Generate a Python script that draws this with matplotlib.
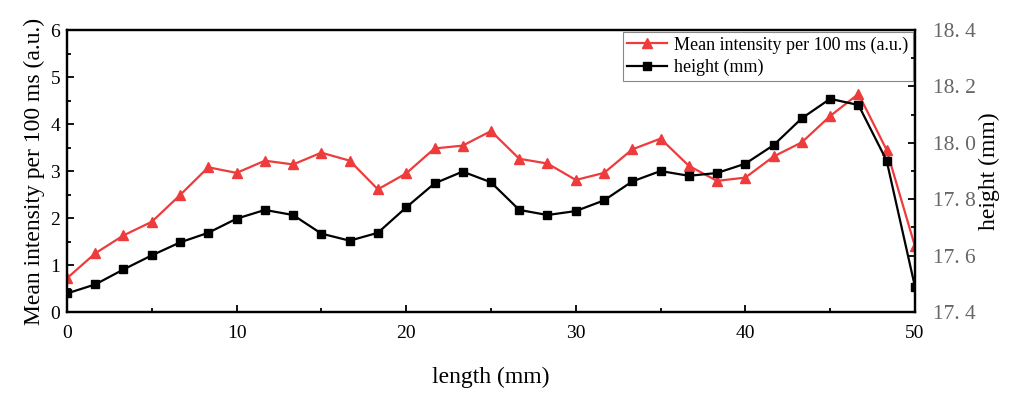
import matplotlib
matplotlib.use('Agg')
import matplotlib.pyplot as plt
from matplotlib.ticker import MultipleLocator, FuncFormatter

plt.rcParams['font.family'] = ['Liberation Serif', 'DejaVu Serif']

length = [0, 1.67, 3.33, 5, 6.67, 8.33, 10, 11.67, 13.33, 15, 16.67, 18.33, 20, 21.67, 23.33,
          25, 26.67, 28.33, 30, 31.67, 33.33, 35, 36.67, 38.33, 40, 41.67, 43.33, 45, 46.67, 48.33, 50]
intensity = [0.72, 1.25, 1.63, 1.92, 2.49, 3.08, 2.96, 3.22, 3.14, 3.39, 3.22, 2.61, 2.95, 3.48, 3.54,
             3.85, 3.26, 3.16, 2.81, 2.96, 3.46, 3.69, 3.11, 2.79, 2.86, 3.31, 3.61, 4.17, 4.64, 3.45, 1.4]
height = [17.466, 17.498, 17.551, 17.601, 17.647, 17.681, 17.731, 17.762, 17.744, 17.678, 17.653,
          17.681, 17.771, 17.856, 17.898, 17.860, 17.762, 17.744, 17.758, 17.796, 17.863, 17.900,
          17.883, 17.893, 17.926, 17.992, 18.087, 18.156, 18.134, 17.937, 17.49]

red = '#EE3B3B'
fig = plt.figure(figsize=(10.2, 3.98), dpi=100)
ax = fig.add_axes([0.0657, 0.216, 0.8313, 0.7086])
ax2 = ax.twinx()

l1, = ax.plot(length, intensity, color=red, marker='^', ms=7, lw=1.6, label='Mean intensity per 100 ms (a.u.)')
l2, = ax2.plot(length, height, color='black', marker='s', ms=6, lw=1.6, label='height (mm)')

ax.set_xlim(0, 50)
ax.set_ylim(0, 6)
ax2.set_ylim(17.4, 18.4)

ax.xaxis.set_major_locator(MultipleLocator(10))
ax.xaxis.set_minor_locator(MultipleLocator(5))
ax.yaxis.set_major_locator(MultipleLocator(1))
ax.yaxis.set_minor_locator(MultipleLocator(0.5))
ax2.yaxis.set_major_locator(MultipleLocator(0.2))
ax2.yaxis.set_minor_locator(MultipleLocator(0.1))
ax2.yaxis.set_major_formatter(FuncFormatter(lambda v, p: ('%.1f' % v).replace('.', '. ')))

for a in (ax, ax2):
    for sp in a.spines.values():
        sp.set_linewidth(1.6)
    a.tick_params(which='both', direction='in', width=1.3)
    a.tick_params(which='major', length=5)
    a.tick_params(which='minor', length=3)
ax.tick_params(axis='x', labelsize=14, pad=9)
ax.tick_params(axis='y', labelsize=14, pad=5)
ax2.tick_params(axis='y', labelsize=15.5, labelcolor='#666666', pad=13)

ax.set_xlabel('length (mm)', fontsize=17, labelpad=18)
ax.set_ylabel('Mean intensity per 100 ms (a.u.)', fontsize=17, labelpad=4)
ax2.set_ylabel('height (mm)', fontsize=17, labelpad=2)

leg = ax.legend(handles=[l1, l2], loc='upper right', fontsize=13, fancybox=False, framealpha=1,
                edgecolor='#888888', borderaxespad=0.1, handlelength=2.2, borderpad=0.25,
                labelspacing=0.3, handletextpad=0.4)
leg.get_frame().set_linewidth(0.8)

fig.savefig('out.png', dpi=100)
